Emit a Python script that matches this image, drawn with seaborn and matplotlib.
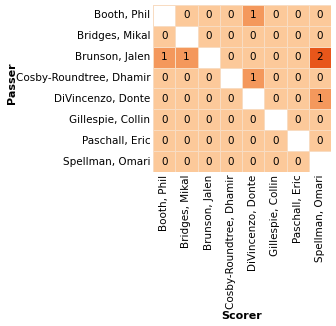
import numpy as np
import pandas as pd
import seaborn as sns
import matplotlib
matplotlib.use("Agg")
import matplotlib.pyplot as plt
from matplotlib.colors import LinearSegmentedColormap

players = ["Booth, Phil", "Bridges, Mikal", "Brunson, Jalen", "Cosby-Roundtree, Dhamir",
           "DiVincenzo, Donte", "Gillespie, Collin", "Paschall, Eric", "Spellman, Omari"]

row_booth      = [None, 0, 0, 0, 1, 0, 0, 0]
row_bridges    = [0, None, 0, 0, 0, 0, 0, 0]
row_brunson    = [1, 1, None, 0, 0, 0, 0, 2]
row_cosby      = [0, 0, 0, None, 1, 0, 0, 0]
row_divincenzo = [0, 0, 0, 0, None, 0, 0, 1]
row_gillespie  = [0, 0, 0, 0, 0, None, 0, 0]
row_paschall   = [0, 0, 0, 0, 0, 0, None, 0]
row_spellman   = [0, 0, 0, 0, 0, 0, 0, None]

rows = [row_booth, row_bridges, row_brunson, row_cosby,
        row_divincenzo, row_gillespie, row_paschall, row_spellman]
df = pd.DataFrame([[np.nan if v is None else v for v in r] for r in rows],
                  index=players, columns=players, dtype=float)

cmap = LinearSegmentedColormap.from_list("pass", ["#fcc99a", "#f4985c", "#e8561a"])

sns.set_theme(style="white")
plt.rcParams['font.family'] = ['DejaVu Sans']

fig = plt.figure(figsize=(3.36, 3.26), dpi=100)
ax = fig.add_axes([153/336, 1 - 172/326, 178/336, 167/326])
sns.heatmap(df, ax=ax, cmap=cmap, vmin=0, vmax=2, cbar=False,
            annot=True, fmt=".0f", annot_kws={"size": 7.5, "color": "black"},
            linewidths=0.6, linecolor="#f8dcc2")
ax.set_xlabel("")
ax.set_ylabel("")
ax.tick_params(axis="both", length=0, labelsize=7.5, pad=2, labelcolor="black")
ax.set_xticklabels(players, rotation=90)
ax.set_yticklabels(players, rotation=0)
fig.text(12/336, 1 - 83/326, "Passer", rotation=90, ha="center", va="center",
         fontsize=8, fontweight="bold", color="black")
fig.text(242/336, 1 - 316/326, "Scorer", ha="center", va="center",
         fontsize=8, fontweight="bold", color="black")
fig.savefig("out.png", dpi=100)
